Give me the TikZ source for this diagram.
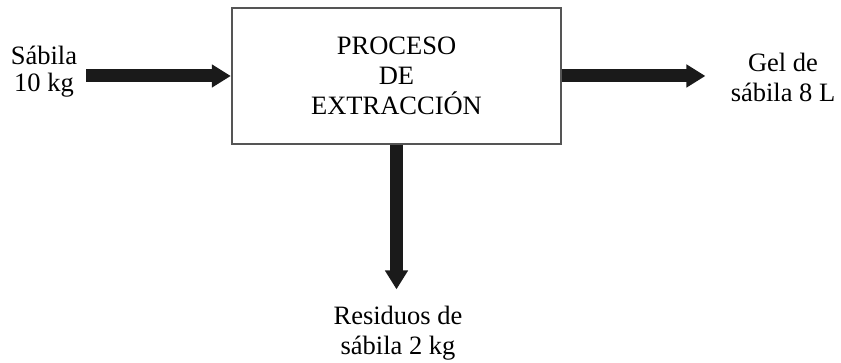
\documentclass[tikz,border=0pt]{standalone}
\usepackage{fontspec}
\setmainfont{Liberation Serif}
\usetikzlibrary{arrows.meta}
\definecolor{arrowcol}{HTML}{1A1A1A}
\definecolor{boxcol}{HTML}{555555}
\begin{document}
\begin{tikzpicture}[x=1pt,y=1pt,
  lbl/.style={align=center,inner sep=0pt,anchor=base,font=\fontsize{26.5}{30}\selectfont},
  procbox/.style={draw=boxcol,line width=1.2pt,minimum width=329pt,minimum height=136pt,inner sep=0pt,align=center,font=\fontsize{26.5}{30}\selectfont},
  flow/.style={draw=arrowcol,line width=13pt,-{Triangle[length=19pt,width=22pt]},shorten >=0.6pt}
]
\useasboundingbox (0,0) rectangle (841,363);
\node[procbox] (box) at (396.5,287) {PROCESO\\DE\\EXTRACCIÓN};
\coordinate (in) at (86,287);
\coordinate (out) at (706,287);
\coordinate (res) at (396.5,73);
\draw[flow] (in) -- (box.west);
\draw[flow] (box.east) -- (out);
\draw[flow] (box.south) -- (res);
\node[lbl,font=\fontsize{26.5}{27}\selectfont] (sab) at (44,271) {Sábila\\10 kg};
\node[lbl] (gel) at (783,261) {Gel de\\sábila 8 L};
\node[lbl] (resid) at (398,8) {Residuos de\\sábila 2 kg};
\end{tikzpicture}
\end{document}
